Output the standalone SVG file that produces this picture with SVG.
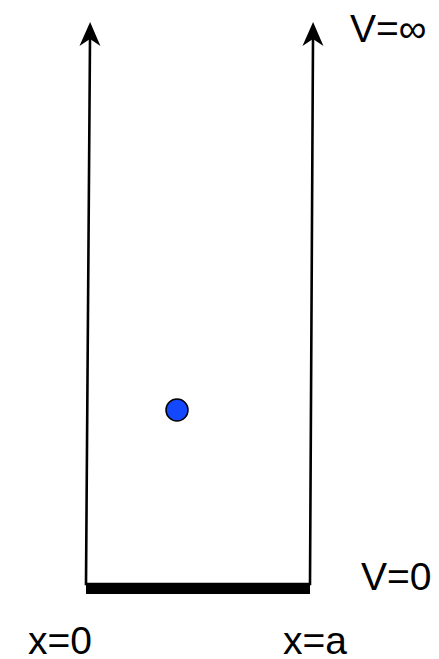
<svg xmlns="http://www.w3.org/2000/svg" width="439" height="659" viewBox="0 0 439 659">
  <style>
    .lbl { font-family: "Liberation Sans", Arial, sans-serif; font-size: 39px; fill: #000; }
    .wall { fill: none; stroke: #000; stroke-width: 2.6; stroke-linejoin: miter; }
    .floor { stroke: #000; stroke-width: 9; stroke-linecap: butt; }
  </style>
  <defs>
    <marker id="arrow" markerUnits="userSpaceOnUse" viewBox="-20 -12 32 24" refX="0" refY="0" markerWidth="32" markerHeight="24" orient="auto-start-reverse" overflow="visible">
      <path d="M17,0 L-7,-10.5 L0,0 L-7,10.5 Z" fill="#000"/>
    </marker>
  </defs>
  <rect width="439" height="659" fill="#fff"/>
  <g id="connectors">
    <path id="well" class="wall" d="M90,39 L86,584 L310,584 L313,39" marker-start="url(#arrow)" marker-end="url(#arrow)"/>
    <line id="bottom" class="floor" x1="86" y1="589.5" x2="310" y2="589.5"/>
  </g>
  <g id="particle">
    <circle cx="177" cy="410" r="11" fill="#1448ff" stroke="#000" stroke-width="1.5"/>
  </g>
  <g id="labels">
    <text id="v-inf" class="lbl" x="350" y="42">V=∞</text>
    <text id="v-zero" class="lbl" x="361" y="590">V=0</text>
    <text id="x-zero" class="lbl" x="28" y="654">x=0</text>
    <text id="x-a" class="lbl" x="283" y="654">x=a</text>
  </g>
</svg>
